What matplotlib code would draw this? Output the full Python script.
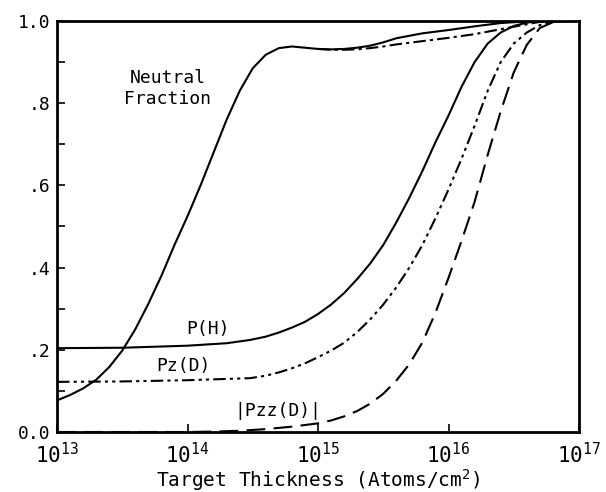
import matplotlib
matplotlib.use("Agg")
import matplotlib.pyplot as plt
import numpy as np

plt.rcParams['font.family'] = ['DejaVu Sans Mono', 'DejaVu Sans']
plt.rcParams['mathtext.fontset'] = 'custom'
plt.rcParams['mathtext.rm'] = 'DejaVu Sans Mono'

# ---- data (log10 of target thickness, fraction) ----
nh_logx = [13.0, 13.1, 13.2, 13.3, 13.4, 13.5, 13.6, 13.7, 13.8, 13.9, 14.0, 14.1, 14.2,
           14.3, 14.4, 14.5, 14.6, 14.7, 14.8, 14.9, 15.0, 15.1, 15.2, 15.3, 15.4, 15.5,
           15.6, 15.8, 16.0, 16.2, 16.4, 16.6, 17.0]
nh_y = [0.077, 0.090, 0.106, 0.127, 0.158, 0.198, 0.250, 0.312, 0.380, 0.455, 0.525, 0.600,
        0.680, 0.760, 0.830, 0.885, 0.918, 0.934, 0.938, 0.935, 0.932, 0.931, 0.932, 0.935,
        0.940, 0.948, 0.958, 0.970, 0.978, 0.987, 0.995, 0.999, 1.000]

nd_logx = [15.0, 15.1, 15.2, 15.3, 15.4, 15.5, 15.6, 15.8, 16.0, 16.2, 16.4, 16.6, 16.7,
           16.8, 17.0]
nd_y = [0.932, 0.930, 0.930, 0.931, 0.934, 0.938, 0.943, 0.951, 0.959, 0.968, 0.980, 0.992,
        0.998, 1.000, 1.000]

ph_logx = [13.0, 13.5, 14.0, 14.3, 14.48, 14.6, 14.7, 14.8, 14.9, 15.0, 15.1, 15.2, 15.3,
           15.4, 15.5, 15.6, 15.7, 15.8, 15.9, 16.0, 16.1, 16.2, 16.3, 16.4, 16.5, 16.6,
           16.7, 17.0]
ph_y = [0.204, 0.205, 0.210, 0.216, 0.224, 0.232, 0.242, 0.254, 0.268, 0.287, 0.310, 0.338,
        0.372, 0.410, 0.455, 0.510, 0.570, 0.635, 0.705, 0.770, 0.840, 0.900, 0.945, 0.972,
        0.988, 0.996, 1.000, 1.000]

pz_logx = [13.0, 13.5, 14.0, 14.48, 14.6, 14.7, 14.8, 14.9, 15.0, 15.1, 15.2, 15.3, 15.4,
           15.5, 15.6, 15.7, 15.8, 15.9, 16.0, 16.1, 16.2, 16.3, 16.4, 16.5, 16.6, 16.7,
           16.8, 16.9, 17.0]
pz_y = [0.122, 0.123, 0.126, 0.131, 0.137, 0.145, 0.155, 0.167, 0.182, 0.198, 0.217, 0.243,
        0.274, 0.310, 0.352, 0.400, 0.455, 0.520, 0.590, 0.665, 0.745, 0.830, 0.900, 0.945,
        0.972, 0.990, 0.998, 1.000, 1.000]

pzz_logx = [13.0, 14.0, 14.2, 14.4, 14.6, 14.8, 15.0, 15.1, 15.2, 15.3, 15.4, 15.5, 15.6,
            15.7, 15.8, 15.9, 16.0, 16.1, 16.2, 16.3, 16.4, 16.5, 16.6, 16.7, 16.8, 16.9,
            17.0]
pzz_y = [0.000, 0.000, 0.001, 0.003, 0.007, 0.013, 0.021, 0.028, 0.038, 0.051, 0.069, 0.093,
         0.125, 0.165, 0.218, 0.290, 0.375, 0.465, 0.560, 0.674, 0.780, 0.875, 0.942, 0.983,
         0.997, 1.000, 1.000]

xtick_exp = [13, 14, 15, 16, 17]
ytick_vals = [0.0, 0.2, 0.4, 0.6, 0.8, 1.0]
ytick_labels = ['0.0', '.2', '.4', '.6', '.8', '1.0']

fig = plt.figure(figsize=(6.06, 4.92), dpi=100)
ax = fig.add_axes([57/606, 1-432/492, (579-57)/606, (432-21)/492])

lw = 1.5
ax.plot(10**np.array(nh_logx), nh_y, color='black', lw=lw)
ax.plot(10**np.array(nd_logx), nd_y, color='black', lw=lw, linestyle=(0, (6, 2, 1.5, 2)))
ax.plot(10**np.array(ph_logx), ph_y, color='black', lw=lw)
ax.plot(10**np.array(pz_logx), pz_y, color='black', lw=lw, linestyle=(0, (6, 2, 1.5, 2, 1.5, 2)))
ax.plot(10**np.array(pzz_logx), pzz_y, color='black', lw=lw, linestyle=(0, (9, 4)))

ax.set_xscale('log')
ax.set_xlim(1e13, 1e17)
ax.set_ylim(0, 1)

ax.set_xticks([10.0**e for e in xtick_exp])
ax.set_xticklabels([r'$\mathregular{10^{%d}}$' % e for e in xtick_exp], fontsize=15)
ax.xaxis.set_minor_locator(matplotlib.ticker.NullLocator())
ax.set_yticks(ytick_vals)
ax.set_yticklabels(ytick_labels, fontsize=13)
ax.set_yticks(np.arange(0.1, 1.0, 0.2), minor=True)

ax.tick_params(axis='both', which='both', direction='in', width=1.2)
ax.tick_params(axis='both', which='major', length=6)
ax.tick_params(axis='y', which='minor', length=6)
ax.tick_params(axis='x', which='major', pad=7)
ax.tick_params(axis='y', which='major', pad=5)

for s in ax.spines.values():
    s.set_linewidth(2)

ax.set_xlabel('Target Thickness (Atoms/cm$\\mathregular{^2}$)', fontsize=14, labelpad=0)

ax.text(10**13.85, 0.835, 'Neutral\nFraction', fontsize=13, ha='center', va='center',
        linespacing=1.2)
ax.text(10**14.16, 0.25, 'P(H)', fontsize=13, ha='center', va='center')
ax.text(10**13.97, 0.16, 'Pz(D)', fontsize=13, ha='center', va='center')
ax.text(10**14.69, 0.05, '|Pzz(D)|', fontsize=13, ha='center', va='center')

fig.savefig('out.png', dpi=100)
